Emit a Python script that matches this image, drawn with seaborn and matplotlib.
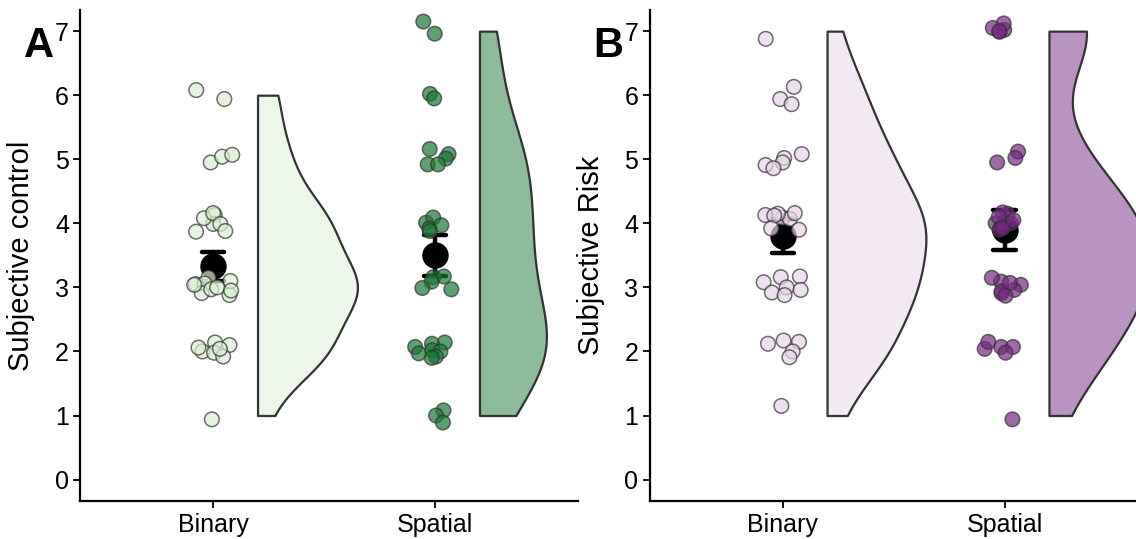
import numpy as np
import pandas as pd
import matplotlib
matplotlib.use("Agg")
import matplotlib.pyplot as plt
import seaborn as sns

# ---------------- data ----------------
conditions = ["Binary", "Spatial"]

control_binary = [6.08, 5.94, 4.95, 5.04, 5.07, 4.13, 3.99, 3.87, 4.08, 4.16,
                  3.99, 3.88, 3.15, 3.05, 3.06, 2.88, 2.91, 2.97, 3.10, 3.04,
                  3.00, 2.95, 2.00, 2.14, 2.10, 2.06, 1.98, 1.92, 2.04, 0.94]
control_spatial = [7.15, 6.96, 6.02, 5.95, 5.16, 5.08, 5.01, 4.92, 4.92, 4.01,
                   4.09, 3.92, 3.97, 3.88, 3.16, 3.17, 3.09, 2.97, 2.99, 2.14,
                   2.12, 2.02, 2.00, 1.92, 1.90, 2.07, 1.97, 1.08, 1.00, 0.89]
risk_binary = [6.88, 6.13, 5.94, 5.86, 5.08, 5.02, 4.95, 4.91, 4.86, 4.09,
               4.07, 4.16, 4.15, 4.13, 4.12, 3.90, 3.92, 3.16, 3.17, 3.08,
               3.00, 2.96, 2.92, 2.88, 2.15, 2.12, 2.17, 2.00, 1.91, 1.15]
risk_spatial = [7.05, 7.02, 6.99, 7.12, 7.00, 5.12, 5.02, 4.95, 4.15, 4.00,
                4.17, 4.10, 4.00, 3.90, 3.93, 4.05, 3.09, 3.04, 3.15, 2.96,
                2.91, 2.94, 3.07, 2.87, 2.07, 2.04, 2.15, 2.07, 1.98, 0.94]

y_ticks = [0, 1, 2, 3, 4, 5, 6, 7]
panel_labels = ["A", "B"]
y_titles = ["Subjective control", "Subjective Risk"]

# ---------------- styles ----------------
control_point_colors = {"Binary": "#d9f0d3", "Spatial": "#1b7837"}
control_violin_colors = {"Binary": "#ecf7e9", "Spatial": "#8dbb9b"}
risk_point_colors = {"Binary": "#e7d4e8", "Spatial": "#762a83"}
risk_violin_colors = {"Binary": "#f3e9f3", "Spatial": "#ba94c1"}
edge = "#333333"

sns.set_theme(style="ticks")
plt.rcParams["font.family"] = ["Liberation Sans", "DejaVu Sans"]

fig = plt.figure(figsize=(11.36, 5.39), dpi=100)
W, H = 1136.0, 539.0
axA = fig.add_axes([80 / W, 1 - 500.7 / H, 498 / W, 490.7 / H])
axB = fig.add_axes([649.5 / W, 1 - 500.7 / H, 498 / W, 490.7 / H])

VW = 0.45          # max half-violin width (data units)
V_OFF = 0.2        # gap between category centre and flat violin edge


def panel(ax, binary, spatial, pcols, vcols, ytitle, letter, letter_x):
    df = pd.DataFrame({
        "cond": [conditions[0]] * len(binary) + [conditions[1]] * len(spatial),
        "value": binary + spatial,
    })
    df["score"] = np.rint(df["value"])
    df["xpos"] = df["cond"].map({conditions[0]: 0.0, conditions[1]: 1.0})
    df["vpos"] = df["xpos"] + V_OFF + VW / 2

    # half ("flat") violins: odd hue levels are drawn on the right side
    hue_order = ["_pad0", conditions[0], "_pad1", conditions[1]]
    vpal = {"_pad0": "white", "_pad1": "white", **vcols}
    sns.violinplot(data=df, x="vpos", y="score", hue="cond", hue_order=hue_order,
                   palette=vpal, split=True, dodge=False, native_scale=True,
                   inner=None, cut=0, density_norm="area", common_norm=True,
                   width=VW, bw_method=0.42, linecolor=edge, linewidth=1.6,
                   saturation=1, legend=False, ax=ax)

    # mean +/- SE
    sns.pointplot(data=df, x="xpos", y="score", native_scale=True,
                  errorbar="se", color="black", markers="o", markersize=17,
                  linestyle="none", capsize=0.1, err_kws={"linewidth": 3.2},
                  ax=ax)

    # jittered raw points
    np.random.seed(7)
    sns.stripplot(data=df, x="xpos", y="value", hue="cond", palette=pcols,
                  native_scale=True, jitter=0.09, dodge=False, size=10.5,
                  alpha=0.7, edgecolor=edge, linewidth=1.1, legend=False,
                  zorder=5, ax=ax)

    ax.set_xlim(-0.6, 1.644)
    ax.set_ylim(-0.33, 7.33)
    ax.set_xticks([0, 1])
    ax.set_xticklabels(conditions)
    ax.set_yticks(y_ticks)
    ax.set_xlabel("")
    ax.set_ylabel(ytitle, fontsize=21, color="black", labelpad=14)
    ax.tick_params(axis="both", labelsize=18, colors="black", length=5,
                   width=1.3, direction="out")
    ax.tick_params(axis="x", pad=4)
    ax.tick_params(axis="y", pad=3)
    for s in ["top", "right"]:
        ax.spines[s].set_visible(False)
    for s in ["left", "bottom"]:
        ax.spines[s].set_linewidth(1.6)
        ax.spines[s].set_color("black")
    fig.text(letter_x, 1 - 57 / H, letter, fontsize=30, fontweight="bold",
             color="black", ha="left", va="baseline")


panel(axA, control_binary, control_spatial, control_point_colors,
      control_violin_colors, y_titles[0], panel_labels[0], 24 / W)
panel(axB, risk_binary, risk_spatial, risk_point_colors,
      risk_violin_colors, y_titles[1], panel_labels[1], 593 / W)

fig.savefig("out.png", dpi=100)
